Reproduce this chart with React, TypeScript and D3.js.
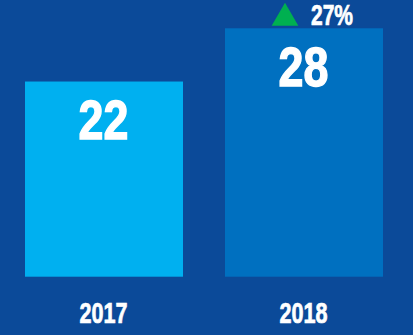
import React from "react";
import * as d3 from "d3";

const categories: string[] = ["2017", "2018"];
const values: number[] = [22, 28];
const barColors: string[] = ["#00b0f0", "#0070c0"];
const changeLabel = "27%";

const W = 413;
const H = 335;
const FONT = "'Liberation Sans', Arial, sans-serif";

function Condensed(props: {
  x: number;
  y: number;
  size: number;
  sx: number;
  anchor: "start" | "middle";
  children: React.ReactNode;
}) {
  return (
    <g transform={`translate(${props.x},${props.y}) scale(${props.sx},1)`}>
      <text
        x={0}
        y={0}
        textAnchor={props.anchor}
        fill="#ffffff"
        stroke="#ffffff"
        strokeWidth={props.size * 0.025}
        fontFamily={FONT}
        fontWeight="bold"
        fontSize={props.size}
      >
        {props.children}
      </text>
    </g>
  );
}

export default function App() {
  const x = d3
    .scaleBand<string>()
    .domain(categories)
    .range([4, 404])
    .paddingInner(0.21)
    .paddingOuter(0.105);
  const y = d3.scaleLinear().domain([0, 28]).range([276.7, 28.3]);
  const tri = d3.symbol().type(d3.symbolTriangle).size(308)();
  const last = categories[categories.length - 1];
  const lastCx = (x(last) ?? 0) + x.bandwidth() / 2;

  return (
    <svg
      width={W}
      height={H}
      style={{ position: "absolute", left: 0, top: 0, display: "block" }}
    >
      <rect x={0} y={0} width={W} height={H} fill="#0b4a99" />
      {categories.map((c, i) => {
        const bx = x(c) ?? 0;
        const cx = bx + x.bandwidth() / 2;
        return (
          <g key={c}>
            <rect
              x={bx}
              y={y(values[i])}
              width={x.bandwidth()}
              height={y(0) - y(values[i])}
              fill={barColors[i]}
            />
            <Condensed x={cx - 0.5} y={y(values[i]) + 57.5} size={56} sx={0.8} anchor="middle">
              {values[i]}
            </Condensed>
            <Condensed x={cx - 0.5} y={323.3} size={30} sx={0.72} anchor="middle">
              {c}
            </Condensed>
          </g>
        );
      })}
      <path d={tri ?? ""} transform={`translate(${lastCx - 19},18.1)`} fill="#00b050" />
      <Condensed x={lastCx + 7} y={25} size={30} sx={0.7} anchor="start">
        {changeLabel}
      </Condensed>
    </svg>
  );
}
